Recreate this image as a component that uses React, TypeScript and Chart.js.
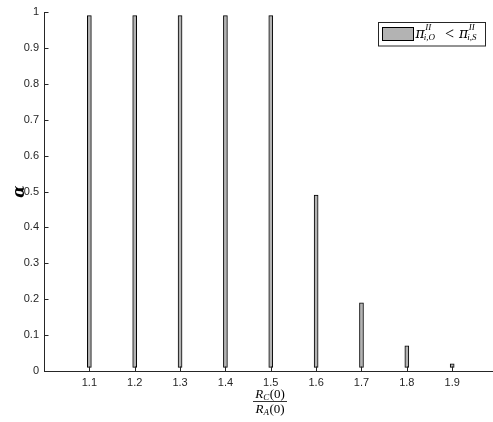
import { useEffect, useRef } from "react";
import { Chart, registerables } from "chart.js";

Chart.register(...registerables);

// Ratio R_C(0)/R_A(0) on the horizontal axis
const ratioValues = [1.1, 1.2, 1.3, 1.4, 1.5, 1.6, 1.7, 1.8, 1.9];
// Range of alpha for which pi_{i,O}^{II} < pi_{i,S}^{II}
const alphaLow = [0.01, 0.01, 0.01, 0.01, 0.01, 0.01, 0.01, 0.01, 0.01];
const alphaHigh = [0.99, 0.99, 0.99, 0.99, 0.99, 0.49, 0.19, 0.07, 0.02];
const xTickValues = [1.1, 1.2, 1.3, 1.4, 1.5, 1.6, 1.7, 1.8, 1.9];
const yTickValues = [0, 0.1, 0.2, 0.3, 0.4, 0.5, 0.6, 0.7, 0.8, 0.9, 1];

const AXIS_COLOR = "#262626";
const BAR_FILL = "#b3b3b3";
const SERIF = '"Liberation Serif", "DejaVu Serif", serif';
const GREEK = '"DejaVu Serif", serif';
const SANS = '"Liberation Sans", Arial, sans-serif';

// pi with superscript II and a subscript; returns the x where it ends
function drawPi(ctx: CanvasRenderingContext2D, x: number, base: number, sub: string) {
  ctx.font = `italic 14px ${GREEK}`;
  ctx.fillText("π", x, base);
  const w = ctx.measureText("π").width;
  ctx.font = `italic 9px ${SERIF}`;
  ctx.fillText("II", x + w + 0.5, base - 8);
  const supW = ctx.measureText("II").width;
  ctx.fillText(sub, x + w - 1, base + 2.5);
  const subW = ctx.measureText(sub).width;
  return x + w + Math.max(supW + 0.5, subW - 1);
}

// R_<sub>(0) measured / drawn at a given baseline
function ratioPart(ctx: CanvasRenderingContext2D, sub: string, x: number, base: number, draw: boolean) {
  let cx = x;
  ctx.font = `italic 13px ${SERIF}`;
  if (draw) ctx.fillText("R", cx, base);
  cx += ctx.measureText("R").width;
  ctx.font = `italic 9px ${SERIF}`;
  if (draw) ctx.fillText(sub, cx, base + 2);
  cx += ctx.measureText(sub).width + 0.5;
  ctx.font = `13px ${SERIF}`;
  if (draw) ctx.fillText("(0)", cx, base);
  cx += ctx.measureText("(0)").width;
  return cx - x;
}

const decorations = {
  id: "decorations",
  afterDraw(chart: any) {
    const ctx: CanvasRenderingContext2D = chart.ctx;
    const area = chart.chartArea;
    const xs = chart.scales.x;
    const ys = chart.scales.y;
    ctx.save();

    // inward tick marks
    ctx.strokeStyle = AXIS_COLOR;
    ctx.lineWidth = 1;
    ctx.beginPath();
    yTickValues.forEach((v) => {
      const py = Math.round(ys.getPixelForValue(v)) + 0.5;
      ctx.moveTo(area.left, py);
      ctx.lineTo(area.left + 4.5, py);
    });
    xTickValues.forEach((v) => {
      const px = Math.round(xs.getPixelForValue(v)) + 0.5;
      ctx.moveTo(px, area.bottom);
      ctx.lineTo(px, area.bottom - 4.5);
    });
    ctx.stroke();

    // legend
    ctx.fillStyle = "#ffffff";
    ctx.fillRect(378.5, 22.5, 107, 23.5);
    ctx.strokeStyle = AXIS_COLOR;
    ctx.strokeRect(378.5, 22.5, 107, 23.5);
    ctx.fillStyle = BAR_FILL;
    ctx.fillRect(382.5, 27.5, 31, 13);
    ctx.strokeStyle = "#000000";
    ctx.strokeRect(382.5, 27.5, 31, 13);
    ctx.fillStyle = "#000000";
    ctx.textBaseline = "alphabetic";
    ctx.textAlign = "left";
    drawPi(ctx, 415.5, 37.5, "i,O");
    ctx.font = `16px ${SERIF}`;
    ctx.fillText("<", 445, 39);
    drawPi(ctx, 459, 37.5, "i,S");

    // x axis title: fraction R_C(0) / R_A(0)
    const cxMid = 270;
    const wNum = ratioPart(ctx, "C", 0, 0, false);
    ratioPart(ctx, "C", cxMid - wNum / 2, 397.5, true);
    const wDen = ratioPart(ctx, "A", 0, 0, false);
    ratioPart(ctx, "A", cxMid - wDen / 2, 412.5, true);
    ctx.strokeStyle = "#000000";
    ctx.lineWidth = 0.8;
    ctx.beginPath();
    ctx.moveTo(253, 401.5);
    ctx.lineTo(287, 401.5);
    ctx.stroke();

    // y axis title: bold alpha
    ctx.translate(20, (area.top + area.bottom) / 2);
    ctx.rotate(-Math.PI / 2);
    ctx.font = `bold italic 16px ${GREEK}`;
    ctx.textAlign = "center";
    ctx.textBaseline = "middle";
    ctx.fillText("α", 0, 0);
    ctx.restore();
  },
};

function zeroPadding(scale: any) {
  scale.paddingTop = 0;
  scale.paddingBottom = 0;
  scale.paddingLeft = 0;
  scale.paddingRight = 0;
}

export default function App() {
  const canvasRef = useRef<HTMLCanvasElement | null>(null);

  useEffect(() => {
    const canvas = canvasRef.current;
    if (!canvas) return;
    const tickFont = { family: SANS, size: 11 };
    const chart = new Chart(canvas, {
      type: "bar",
      data: {
        datasets: [
          {
            label: "alpha range",
            data: ratioValues.map((r, i) => ({ x: r, y: [alphaLow[i], alphaHigh[i]] })) as any,
            backgroundColor: BAR_FILL,
            borderColor: "#000000",
            borderWidth: 1,
            borderSkipped: false,
            barThickness: 4,
          },
        ],
      },
      options: {
        responsive: false,
        animation: false,
        devicePixelRatio: 1,
        layout: { padding: { top: 12, right: 0, bottom: 0, left: 0 } },
        plugins: {
          legend: { display: false },
          tooltip: { enabled: false },
        },
        scales: {
          x: {
            type: "linear",
            min: 1.0,
            max: 1.99,
            offset: false,
            grid: { display: false, drawTicks: false, offset: false },
            border: { display: true, color: AXIS_COLOR, width: 1 },
            afterBuildTicks: (s: any) => {
              s.ticks = xTickValues.map((v) => ({ value: v }));
            },
            afterFit: (s: any) => {
              s.height = 51;
              zeroPadding(s);
            },
            ticks: {
              font: tickFont,
              color: AXIS_COLOR,
              padding: 5,
              autoSkip: false,
              maxRotation: 0,
              callback: (v: any) => Number(v).toFixed(1),
            },
          },
          y: {
            type: "linear",
            min: 0,
            max: 1,
            grid: { display: false, drawTicks: false },
            border: { display: true, color: AXIS_COLOR, width: 1 },
            afterBuildTicks: (s: any) => {
              s.ticks = yTickValues.map((v) => ({ value: v }));
            },
            afterFit: (s: any) => {
              s.width = 44;
              zeroPadding(s);
            },
            ticks: {
              font: tickFont,
              color: AXIS_COLOR,
              padding: 5,
              autoSkip: false,
              callback: (v: any) => String(Number(Number(v).toFixed(1))),
            },
          },
        },
      },
      plugins: [decorations],
    });
    return () => chart.destroy();
  }, []);

  return (
    <div style={{ position: "absolute", left: 0, top: 0, width: 493, height: 422, background: "#ffffff" }}>
      <canvas ref={canvasRef} width={493} height={422} />
    </div>
  );
}
